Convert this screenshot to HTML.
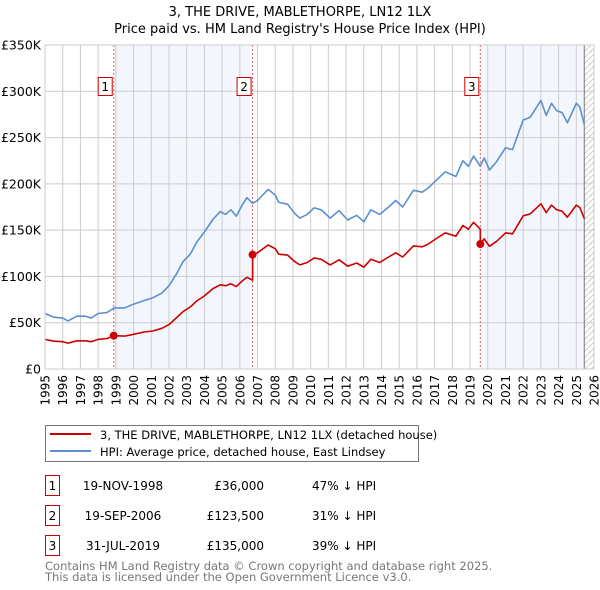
<!DOCTYPE html>
<html><head><meta charset="utf-8"><style>
body{margin:0;background:#fff}
svg{display:block;font-family:"DejaVu Sans","Liberation Sans",sans-serif}
</style></head><body>
<svg id="c" width="600" height="590" viewBox="0 0 600 590">
<text x="300" y="16" text-anchor="middle" font-size="13">3, THE DRIVE, MABLETHORPE, LN12 1LX</text>
<text x="300" y="33" text-anchor="middle" font-size="13">Price paid vs. HM Land Registry's House Price Index (HPI)</text>
<g id="plot"></g>
<g>
<rect x="45.5" y="425.5" width="373" height="36" fill="#fff" stroke="#777"/>
<line x1="50" y1="434" x2="91" y2="434" stroke="#cc0000" stroke-width="2"/>
<text x="100" y="439" font-size="11.5">3, THE DRIVE, MABLETHORPE, LN12 1LX (detached house)</text>
<line x1="50" y1="451" x2="91" y2="451" stroke="#5b8fd0" stroke-width="2"/>
<text x="100" y="456" font-size="11.5">HPI: Average price, detached house, East Lindsey</text>
</g>
<g font-size="12">
<rect x="45.5" y="475.5" width="14" height="20" fill="none" stroke="#cc0000"/><text x="52.5" y="490" text-anchor="middle">1</text>
<text x="123" y="490" text-anchor="middle">19-NOV-1998</text><text x="264" y="490" text-anchor="end">£36,000</text><text x="312" y="490">47% ↓ HPI</text>
<rect x="45.5" y="505.5" width="14" height="20" fill="none" stroke="#cc0000"/><text x="52.5" y="520" text-anchor="middle">2</text>
<text x="123" y="520" text-anchor="middle">19-SEP-2006</text><text x="264" y="520" text-anchor="end">£123,500</text><text x="312" y="520">31% ↓ HPI</text>
<rect x="45.5" y="535.5" width="14" height="20" fill="none" stroke="#cc0000"/><text x="52.5" y="550" text-anchor="middle">3</text>
<text x="123" y="550" text-anchor="middle">31-JUL-2019</text><text x="264" y="550" text-anchor="end">£135,000</text><text x="312" y="550">39% ↓ HPI</text>
</g>
<text x="45" y="570" font-size="11.5" fill="#777">Contains HM Land Registry data © Crown copyright and database right 2025.</text>
<text x="45" y="581" font-size="11.5" fill="#777">This data is licensed under the Open Government Licence v3.0.</text>
</svg>
<script>
const yTicks=[0,50,100,150,200,250,300,350];
const yLabels=["£0","£50K","£100K","£150K","£200K","£250K","£300K","£350K"];
const xYears=[1995,1996,1997,1998,1999,2000,2001,2002,2003,2004,2005,2006,2007,2008,2009,2010,2011,2012,2013,2014,2015,2016,2017,2018,2019,2020,2021,2022,2023,2024,2025,2026];
const hpiDates=[1995.0,1995.5,1996.0,1996.3,1996.8,1997.3,1997.6,1998.0,1998.5,1998.9,1999.5,2000.0,2000.6,2001.1,2001.6,2002.0,2002.4,2002.8,2003.2,2003.6,2004.0,2004.5,2004.9,2005.2,2005.5,2005.8,2006.1,2006.4,2006.72,2007.0,2007.6,2008.0,2008.2,2008.7,2009.1,2009.4,2009.8,2010.2,2010.6,2011.1,2011.6,2012.1,2012.6,2013.0,2013.4,2013.9,2014.4,2014.8,2015.2,2015.8,2016.3,2016.6,2017.1,2017.6,2018.2,2018.6,2018.9,2019.2,2019.58,2019.8,2020.1,2020.5,2021.0,2021.4,2022.0,2022.4,2023.0,2023.3,2023.6,2023.9,2024.2,2024.5,2025.0,2025.2,2025.45];
const hpiValues=[60,56,55,52,57,57,55,60,61,66,66,70,74,77,82,90,102,116,124,138,148,162,170,167,172,165,176,185,179,182,194,188,180,178,168,163,167,174,172,163,171,161,166,159,172,167,175,182,175,193,191,195,204,213,208,225,219,230,219,228,215,224,239,237,269,272,290,274,287,279,277,266,287,283,264];
const redDates=[1995.0,1995.5,1996.0,1996.3,1996.8,1997.3,1997.6,1998.0,1998.5,1998.88,1999.5,2000.0,2000.6,2001.1,2001.6,2002.0,2002.4,2002.8,2003.2,2003.6,2004.0,2004.5,2004.9,2005.2,2005.5,2005.8,2006.1,2006.4,2006.72,2006.72,2007.0,2007.6,2008.0,2008.2,2008.7,2009.1,2009.4,2009.8,2010.2,2010.6,2011.1,2011.6,2012.1,2012.6,2013.0,2013.4,2013.9,2014.4,2014.8,2015.2,2015.8,2016.3,2016.6,2017.1,2017.6,2018.2,2018.6,2018.9,2019.2,2019.58,2019.58,2019.8,2020.1,2020.5,2021.0,2021.4,2022.0,2022.4,2023.0,2023.3,2023.6,2023.9,2024.2,2024.5,2025.0,2025.2,2025.45];
const redValues=[32,30,29.5,28,30.5,30.5,29.5,32,33,36,35.5,37.5,40,41,44,48,55,62,67,74,79,87,91,90,92,89,94.5,99,96,123.5,125.5,134,130,124,123,116,112.5,115,120,118.5,112.5,118,111,114.5,110,118.5,115,121,125.5,121,133,132,134.5,141,147,143.5,155,151,158.5,151,135,140.5,132.5,138,147,146,165.5,167.5,178.5,169,177,172,170.5,164,177,174.5,162.5];
const saleDates=[1998.88,2006.72,2019.58];
const salePrices=[36,123.5,135];
const saleLabels=["1","2","3"];

const NS="http://www.w3.org/2000/svg";
const X0=45,X1=594,Y0=369,Y1=45;
const xs=d=>X0+(d-1995)/(2026-1995)*(X1-X0);
const ys=v=>Y0-v/350*(Y0-Y1);
const g=document.getElementById('plot');
function mk(t,a){const e=document.createElementNS(NS,t);for(const k in a)e.setAttribute(k,a[k]);g.appendChild(e);return e;}
let b1=mk('rect',{x:xs(saleDates[0]),y:Y1,width:xs(saleDates[1])-xs(saleDates[0]),height:Y0-Y1,fill:'#eef3fc',opacity:0.7});


let b2=mk('rect',{x:xs(saleDates[2]),y:Y1,width:xs(2025.45)-xs(saleDates[2]),height:Y0-Y1,fill:'#eef3fc',opacity:0.7});


const defs=document.createElementNS(NS,'defs');defs.innerHTML='<pattern id="h" width="6" height="6" patternUnits="userSpaceOnUse"><path d="M0 6L6 0" stroke="#ccc" stroke-width="1"/></pattern>';g.appendChild(defs);
let ht=mk('rect',{x:xs(2025.45),y:Y1,width:X1-xs(2025.45),height:Y0-Y1,fill:'url(#h)'});


yTicks.forEach((v,i)=>{
 const l=mk('line',{x1:X0,x2:X1,y1:ys(v),y2:ys(v),stroke:'#ccc'});
 
 
 const t=mk('text',{x:X0-4,y:ys(v)+4.5,'text-anchor':'end','font-size':12.5});t.textContent=yLabels[i];
 
 
});
xYears.forEach(y=>{
 const l=mk('line',{x1:xs(y),x2:xs(y),y1:Y1,y2:Y0,stroke:'#ccc'});
 
 
 const tx=xs(y)+4.5,ty=Y0+6;
 const t=mk('text',{x:tx,y:ty,'text-anchor':'end','font-size':12,transform:'rotate(-90 '+tx+' '+ty+')'});t.textContent=y;
 
 
});
let vl=mk('line',{x1:xs(2025.45),x2:xs(2025.45),y1:Y1,y2:Y0,stroke:'#777'});


saleDates.forEach((d,i)=>{
 const l=mk('line',{x1:xs(d),x2:xs(d),y1:Y1,y2:Y0,stroke:'#e06060','stroke-dasharray':'2,2'});
 
 
 const r=mk('rect',{x:xs(d)-15.5,y:77.5,width:14,height:18,fill:'#fff',stroke:'#cc0000'});
 
 
 const t=mk('text',{x:xs(d)-8.5,y:91,'text-anchor':'middle','font-size':12});t.textContent=saleLabels[i];
 
 
});
function path(ds,vs,col,name){
 const p=mk('path',{d:ds.map((d,i)=>(i?'L':'M')+xs(d).toFixed(1)+' '+ys(vs[i]).toFixed(1)).join(''),fill:'none',stroke:col,'stroke-width':1.6,'stroke-linejoin':'round'});
 
 
}
path(hpiDates,hpiValues,'#5b8fd0','hpi-line');
path(redDates,redValues,'#cc0000','property-price-line');
saleDates.forEach((d,i)=>{
 const c=mk('circle',{cx:xs(d),cy:ys(salePrices[i]),r:4,fill:'#cc0000'});
 
 
});
let bd=mk('rect',{x:X0,y:Y1,width:X1-X0,height:Y0-Y1,fill:'none',stroke:'#ccc'});


</script>
</body></html>
